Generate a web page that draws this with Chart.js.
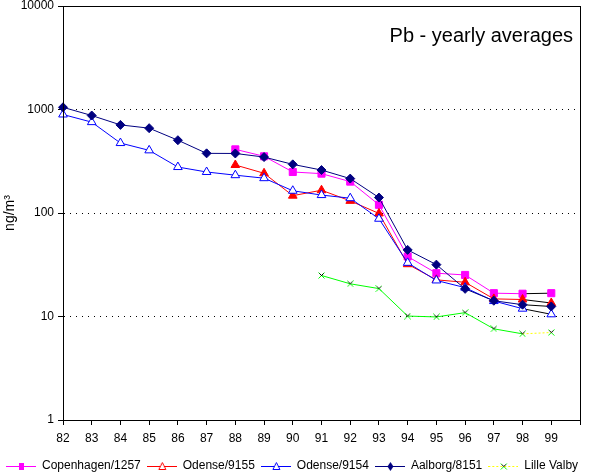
<!DOCTYPE html>
<html>
<head>
<meta charset="utf-8">
<script src="https://cdn.jsdelivr.net/npm/chart.js@4.4.1/dist/chart.umd.min.js"></script>
<style>
  html, body { margin: 0; padding: 0; background: #fff; }
</style>
</head>
<body>
<canvas id="pb_chart" width="600" height="473"></canvas>
<script>
// years on the x axis, the last empty label closes the axis at the right edge
const years = ['82', '83', '84', '85', '86', '87', '88', '89', '90', '91', '92', '93', '94', '95', '96', '97', '98', '99', '']
const y_ticks = [1, 10, 100, 1000, 10000]
const y_grid = [10, 100, 1000]

const copenhagen = [null, null, null, null, null, null, 412, 353, 249, 240, 201, 120, 38, 26.2, 25.2, 16.8, 16.6, 16.8]
const odense_9155 = [null, null, null, null, null, null, 291, 242, 147, 166, 131, 99, 32, 22.6, 21.4, 14.8, 14.6, 13.5]
const odense_9154 = [895, 755, 474, 403, 278, 249, 232, 217, 164, 149, 139, 88, 33, 22.3, 19, 14.1, 11.9, 10.5]
const aalborg = [1050, 875, 710, 660, 505, 377, 376, 347, 295, 260, 215, 141, 44, 31.7, 18.5, 14.2, 13.0, 12.5]
const lille_valby = [null, null, null, null, null, null, null, null, null, 24.9, 20.7, 18.6, 10.1, 9.9, 10.9, 7.6, 6.8, 7.0]

const series_names = ['Copenhagen/1257', 'Odense/9155', 'Odense/9154', 'Aalborg/8151', 'Lille Valby']
const chart_title = 'Pb - yearly averages'
const y_title = 'ng/m³'

const fonte = '"Liberation Sans", Arial, sans-serif'
Chart.defaults.font.family = fonte
Chart.defaults.font.size = 12
Chart.defaults.color = '#000'

// small x marker: green cross with a black stroke
const cruz = () => {
  const c = document.createElement('canvas')
  c.width = 7; c.height = 7
  const g = c.getContext('2d')
  g.lineWidth = 1
  g.strokeStyle = '#00ff00'
  g.beginPath(); g.moveTo(0.5, 0.5); g.lineTo(6.5, 6.5); g.moveTo(6.5, 0.5); g.lineTo(0.5, 6.5); g.stroke()
  g.strokeStyle = '#000'
  g.beginPath(); g.moveTo(1.5, 1.5); g.lineTo(4, 4); g.moveTo(5.5, 1.5); g.lineTo(4, 3); g.stroke()
  return c
}

// legend icon: line with a small marker in the middle
const icone = (cor_linha, tracejado, desenha_marca) => {
  const c = document.createElement('canvas')
  c.width = 30; c.height = 12
  const g = c.getContext('2d')
  g.strokeStyle = cor_linha
  g.lineWidth = 1
  g.setLineDash(tracejado)
  g.beginPath(); g.moveTo(0, 6.5); g.lineTo(30, 6.5); g.stroke()
  g.setLineDash([])
  desenha_marca(g)
  return c
}

const icones = [
  icone('#ff00ff', [], g => { g.fillStyle = '#ff00ff'; g.fillRect(13, 3, 5, 7) }),
  icone('#ff0000', [], g => {
    g.fillStyle = '#fff'; g.strokeStyle = '#ff0000'
    g.beginPath(); g.moveTo(15.5, 2.5); g.lineTo(19, 9.5); g.lineTo(12, 9.5); g.closePath(); g.fill(); g.stroke()
  }),
  icone('#0000ff', [], g => {
    g.fillStyle = '#fff'; g.strokeStyle = '#0000ff'
    g.beginPath(); g.moveTo(15.5, 2.5); g.lineTo(19, 9.5); g.lineTo(12, 9.5); g.closePath(); g.fill(); g.stroke()
  }),
  icone('#000080', [], g => {
    g.fillStyle = '#000080'
    g.beginPath(); g.moveTo(15.5, 2); g.lineTo(18.5, 6.5); g.lineTo(15.5, 11); g.lineTo(12.5, 6.5); g.closePath(); g.fill()
  }),
  icone('#ffff00', [2, 2], g => { g.drawImage(cruz(), 12, 3) })
]

const ultimo_preto = c => c.p0DataIndex === 16 ? '#000' : undefined

const frame_e_titulo = {
  id: 'frame_e_titulo',
  afterDraw(chart) {
    const {ctx, chartArea} = chart
    const l = Math.round(chartArea.left - 0.5) + 0.5
    const r = Math.round(chartArea.right - 0.5) + 0.5
    const t = Math.round(chartArea.top - 0.5) + 0.5
    const b = Math.round(chartArea.bottom - 0.5) + 0.5
    ctx.save()
    ctx.strokeStyle = '#000'
    ctx.lineWidth = 1
    ctx.setLineDash([])
    ctx.strokeRect(l, t, r - l, b - t)
    ctx.font = '20px ' + fonte
    ctx.fillStyle = '#000'
    ctx.textAlign = 'right'
    ctx.textBaseline = 'alphabetic'
    ctx.fillText(chart_title, chartArea.right - 7, chartArea.top + 35.5)
    ctx.restore()
  }
}

const data = {
  labels: years,
  datasets: [
    {label: series_names[0], data: copenhagen, yAxisID: 'y', order: 5,
      borderColor: '#ff00ff', borderWidth: 1, pointStyle: 'rect', pointRadius: 5,
      pointBackgroundColor: '#ff00ff', pointBorderColor: '#ff00ff',
      segment: {borderColor: ultimo_preto}},
    {label: series_names[1], data: odense_9155, yAxisID: 'y', order: 4,
      borderColor: '#ff0000', borderWidth: 1, pointStyle: 'triangle', pointRadius: 5,
      pointBackgroundColor: '#ff0000', pointBorderColor: '#ff0000',
      segment: {borderColor: ultimo_preto}},
    {label: series_names[2], data: odense_9154, yAxisID: 'y', order: 3,
      borderColor: '#0000ff', borderWidth: 1, pointStyle: 'triangle', pointRadius: 5,
      pointBackgroundColor: '#fff', pointBorderColor: '#0000ff', pointBorderWidth: 1,
      segment: {borderColor: ultimo_preto}},
    {label: series_names[3], data: aalborg, yAxisID: 'y', order: 2,
      borderColor: '#000080', borderWidth: 1, pointStyle: 'rectRot', pointRadius: 4.5,
      pointBackgroundColor: '#000080', pointBorderColor: '#000080',
      segment: {borderColor: ultimo_preto}},
    {label: series_names[4], data: lille_valby, yAxisID: 'y', order: 1,
      borderColor: '#ffff00', borderWidth: 1, borderDash: [2, 2], pointStyle: cruz(),
      segment: {
        borderColor: c => c.p0DataIndex < 16 ? '#00ff00' : undefined,
        borderDash: c => c.p0DataIndex < 16 ? [] : undefined
      }}
  ]
}

const config = {
  type: 'line',
  data: data,
  plugins: [frame_e_titulo],
  options: {
    responsive: false,
    animation: false,
    layout: {padding: {top: 4, bottom: -9, left: 0, right: 0}},
    plugins: {
      tooltip: {enabled: false},
      legend: {
        position: 'bottom',
        align: 'start',
        labels: {
          usePointStyle: true,
          pointStyleWidth: 30,
          padding: 6,
          font: {size: 12},
          generateLabels: () => series_names.map((nome, i) => ({
            text: nome, pointStyle: icones[i], fillStyle: '#fff', strokeStyle: '#fff',
            lineWidth: 0, hidden: false, datasetIndex: i, fontColor: '#000'
          }))
        }
      }
    },
    scales: {
      x: {
        type: 'category',
        offset: false,
        afterFit: s => { s.height = 34; s.paddingLeft = 0; s.paddingRight = 0 },
        ticks: {padding: 6, maxRotation: 0, autoSkip: false},
        grid: {drawOnChartArea: false, tickLength: 5, tickColor: '#000', color: '#000'},
        border: {color: '#000'}
      },
      y: {
        type: 'logarithmic',
        min: 1,
        max: 10000,
        afterBuildTicks: s => { s.ticks = y_ticks.map(v => ({value: v})) },
        afterFit: s => { s.width = 63; s.paddingTop = 0; s.paddingBottom = 0 },
        ticks: {padding: 4, callback: v => String(v)},
        grid: {
          color: c => (c.tick && y_grid.includes(c.tick.value)) ? '#000' : 'rgba(0,0,0,0)',
          tickColor: '#000', tickLength: 5, lineWidth: 1
        },
        border: {color: '#000', dash: [1, 5]},
        title: {display: true, text: y_title, font: {size: 14}, padding: {top: 2, bottom: 0}}
      },
      y_direita: {
        type: 'linear',
        position: 'right',
        display: true,
        ticks: {display: false},
        grid: {display: false, drawTicks: false},
        border: {display: false},
        afterFit: s => { s.width = 20 }
      }
    }
  }
}

const myChart = new Chart(document.getElementById('pb_chart'), config)
</script>
</body>
</html>
